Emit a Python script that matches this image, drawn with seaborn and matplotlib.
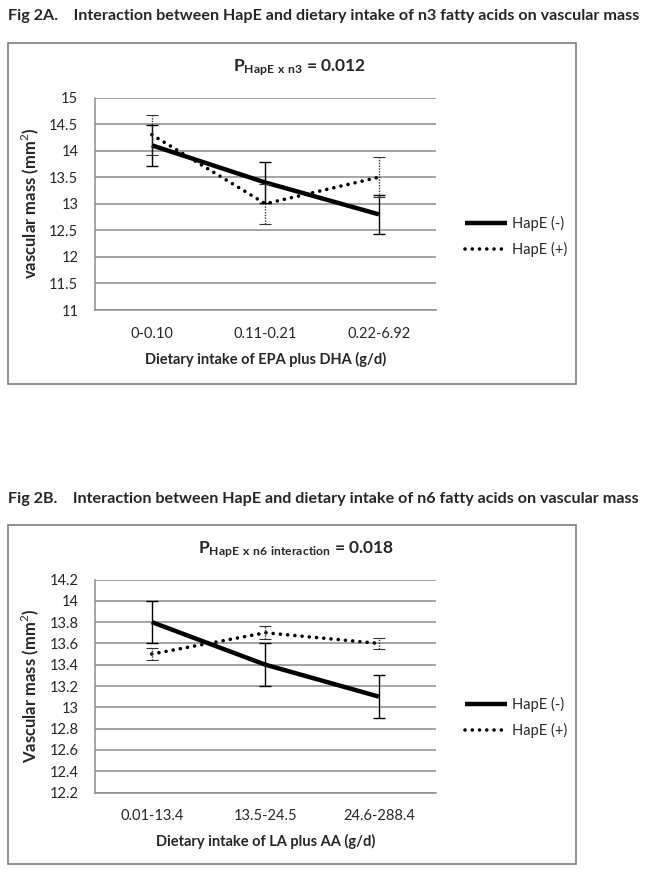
import numpy as np
import matplotlib
matplotlib.use("Agg")
import matplotlib.pyplot as plt
import seaborn as sns
from matplotlib.patches import Rectangle

# Fig 2A: n3 fatty acids
n3_groups = ["0-0.10", "0.11-0.21", "0.22-6.92"]
n3_neg = [14.1, 13.4, 12.8]
n3_neg_err = [0.38, 0.38, 0.37]
n3_pos = [14.3, 13.0, 13.5]
n3_pos_err = [0.38, 0.38, 0.38]
n3_yticks = [11, 11.5, 12, 12.5, 13, 13.5, 14, 14.5, 15]
n3_ylabels = ["11", "11.5", "12", "12.5", "13", "13.5", "14", "14.5", "15"]

# Fig 2B: n6 fatty acids
n6_groups = ["0.01-13.4", "13.5-24.5", "24.6-288.4"]
n6_neg = [13.8, 13.4, 13.1]
n6_neg_err = [0.2, 0.2, 0.2]
n6_pos = [13.5, 13.7, 13.6]
n6_pos_err = [0.06, 0.06, 0.05]
n6_yticks = [12.2, 12.4, 12.6, 12.8, 13, 13.2, 13.4, 13.6, 13.8, 14, 14.2]
n6_ylabels = ["12.2", "12.4", "12.6", "12.8", "13", "13.2", "13.4", "13.6", "13.8", "14", "14.2"]

series_names = ["HapE (-)", "HapE (+)"]

sns.set_style("white")
plt.rcParams["font.family"] = ["Lato", "DejaVu Sans"]
plt.rcParams["mathtext.fontset"] = "custom"
plt.rcParams["mathtext.rm"] = "Lato"
plt.rcParams["mathtext.bf"] = "Lato:bold"

W, H = 649, 874
fig = plt.figure(figsize=(W / 100, H / 100), dpi=100)

GRID = "#8c8c8c"
DOT = (0, (0.01, 2.0))


def px_axes(left, top, right, bottom):
    return fig.add_axes([left / W, 1 - bottom / H, (right - left) / W, (bottom - top) / H])


def draw_panel(ax, groups, neg, neg_err, pos, pos_err, yticks, ylabels, ylabel, xlabel):
    xs = np.arange(len(groups))
    sns.lineplot(x=xs, y=neg, ax=ax, color="black", lw=3.2, label=series_names[0],
                 solid_capstyle="butt", zorder=4)
    sns.lineplot(x=xs, y=pos, ax=ax, color="black", lw=2.6, linestyle=DOT,
                 dash_capstyle="round", label=series_names[1], zorder=4)
    ax.errorbar(xs, neg, yerr=neg_err, fmt="none", ecolor="black", elinewidth=1.0,
                capsize=4, capthick=1.0, zorder=5)
    eb = ax.errorbar(xs, pos, yerr=pos_err, fmt="none", ecolor="#333333", elinewidth=1.0,
                     capsize=4, capthick=0.8, zorder=5)
    eb[2][0].set_linestyle((0, (1, 1)))

    ax.set_xlim(-0.5, len(groups) - 0.5)
    ax.set_ylim(yticks[0], yticks[-1])
    ax.set_yticks(yticks)
    ax.set_yticklabels(ylabels)
    ax.set_xticks(xs)
    ax.set_xticklabels(groups)
    ax.set_xticks(np.arange(len(groups) + 1) - 0.5, minor=True)
    ax.tick_params(axis="x", which="major", length=0, pad=12, labelsize=10.5)
    ax.tick_params(axis="x", which="minor", length=4, width=1, color=GRID, direction="out")
    ax.tick_params(axis="y", length=4, width=1, color=GRID, direction="out", pad=8, labelsize=10.5)
    ax.grid(axis="y", color=GRID, lw=1.1)
    ax.grid(axis="x", visible=False)
    for s in ["top", "right"]:
        ax.spines[s].set_visible(False)
    for s in ["left", "bottom"]:
        ax.spines[s].set_color(GRID)
        ax.spines[s].set_linewidth(1.1)
    ax.set_ylabel(ylabel, fontsize=12, fontweight="bold", labelpad=6)
    ax.set_xlabel(xlabel, fontsize=10.5, fontweight="bold", labelpad=8)
    ax.legend_.remove()


def legend_for(ax, y_top):
    handles = ax.get_lines()[:2]
    fig.legend(handles, series_names, loc="upper left", frameon=False,
               bbox_to_anchor=(452 / W, 1 - y_top / H), fontsize=10.5,
               handlelength=2.9, handletextpad=0.3, labelspacing=0.75)


def panel_box(top, bottom):
    fig.patches.append(Rectangle((8 / W, 1 - bottom / H), (576 - 8) / W, (bottom - top) / H,
                                 transform=fig.transFigure, fill=False, edgecolor="#888888",
                                 lw=1.3))


# Panel A
ax1 = px_axes(95, 97.5, 435.7, 310)
draw_panel(ax1, n3_groups, n3_neg, n3_neg_err, n3_pos, n3_pos_err, n3_yticks, n3_ylabels,
           "vascular mass (mm$^2$)", "Dietary intake of EPA plus DHA (g/d)")
legend_for(ax1, 203)
panel_box(43, 384)
fig.text(8 / W, 1 - 16 / H, "Fig 2A.    Interaction between HapE and dietary intake of n3 fatty acids on vascular mass",
         fontsize=11.6, fontweight="bold", va="center", ha="left")
fig.text(300 / W, 1 - 68 / H, r"$\mathbf{P_{HapE\ x\ n3}}$ = 0.012",
         fontsize=12.5, fontweight="bold", ha="center", va="center")

# Panel B
ax2 = px_axes(95, 579.5, 435.7, 792.5)
draw_panel(ax2, n6_groups, n6_neg, n6_neg_err, n6_pos, n6_pos_err, n6_yticks, n6_ylabels,
           "Vascular mass (mm$^2$)", "Dietary intake of LA plus AA (g/d)")
legend_for(ax2, 684)
panel_box(525, 864)
fig.text(8 / W, 1 - 499 / H, "Fig 2B.    Interaction between HapE and dietary intake of n6 fatty acids on vascular mass",
         fontsize=11.6, fontweight="bold", va="center", ha="left")
fig.text(296 / W, 1 - 550 / H, r"$\mathbf{P_{HapE\ x\ n6\ interaction}}$ = 0.018",
         fontsize=12.5, fontweight="bold", ha="center", va="center")

fig.savefig("out.png", dpi=100)
